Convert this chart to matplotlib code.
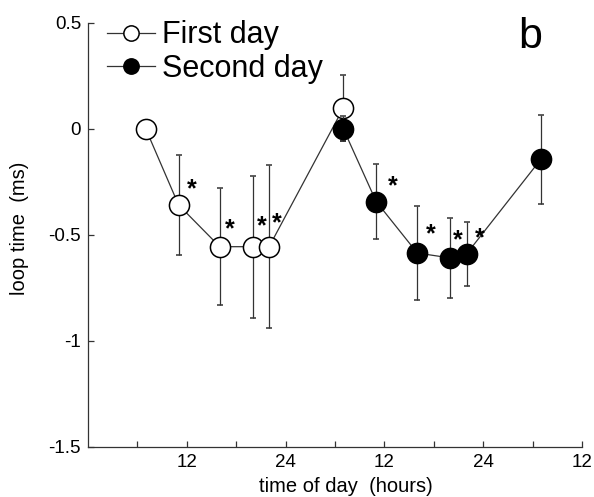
import numpy as np
import matplotlib
matplotlib.use("Agg")
import matplotlib.pyplot as plt
from matplotlib.lines import Line2D

plt.rcParams['font.family'] = ['Liberation Sans', 'DejaVu Sans']

# time of day in hours from start of recording, loop time change (ms), error
day1_t = [7, 11, 16, 20, 22, 31]
day1_v = [0.0, -0.36, -0.557, -0.557, -0.557, 0.096]
day1_err = [0.03, 0.235, 0.275, 0.335, 0.385, 0.157]

day2_t = [31, 35, 40, 44, 46, 55]
day2_v = [0.0, -0.344, -0.587, -0.61, -0.59, -0.145]
day2_err = [0.058, 0.175, 0.22, 0.19, 0.15, 0.21]

# which points carry a significance star
day1_sig = [1, 2, 3, 4]
day2_sig = [1, 2, 3, 4]

xticks = [6, 12, 18, 24, 30, 36, 42, 48, 54, 60]
xlabels = ['', '12', '', '24', '', '12', '', '24', '', '12']
yticks = [-1.5, -1, -0.5, 0, 0.5]
ylabels = ['-1.5', '-1', '-0.5', '0', '0.5']

# star offsets in pixels (dx, dy up)
star_off1 = [(13, 16), (10, 17), (9, 20), (8, 23)]
star_off2 = [(17, 15), (13, 19), (7, 18), (13, 15)]

fig = plt.figure(figsize=(5.94, 4.97), dpi=100)
ax = fig.add_axes([88/594, 1-446.7/497, (582-88)/594, (446.7-22.5)/497])

lc = '#333333'
ax.errorbar(day1_t, day1_v, yerr=day1_err, fmt='-o', color=lc, lw=0.9,
            ecolor=lc, elinewidth=0.9, capsize=2.5, capthick=0.9,
            mfc='white', mec='black', mew=1.1, ms=14.5, zorder=2)
ax.errorbar(day2_t, day2_v, yerr=day2_err, fmt='-o', color=lc, lw=0.9,
            ecolor=lc, elinewidth=0.9, capsize=2.5, capthick=0.9,
            mfc='black', mec='black', mew=1.1, ms=14.5, zorder=3)

for i, (dx, dy) in zip(day1_sig, star_off1):
    ax.annotate('*', (day1_t[i], day1_v[i]), xytext=(dx*0.72, dy*0.72),
                textcoords='offset points', ha='center', va='center',
                fontsize=18, fontweight='bold', zorder=5)
for i, (dx, dy) in zip(day2_sig, star_off2):
    ax.annotate('*', (day2_t[i], day2_v[i]), xytext=(dx*0.72, dy*0.72),
                textcoords='offset points', ha='center', va='center',
                fontsize=18, fontweight='bold', zorder=5)

ax.set_xlim(0, 60)
ax.set_ylim(-1.5, 0.5)
ax.set_xticks(xticks)
ax.set_xticklabels(xlabels)
ax.set_yticks(yticks)
ax.set_yticklabels(ylabels)
ax.tick_params(direction='in', length=4, width=0.9, colors=lc, labelcolor='black',
               labelsize=13.5, pad=5)
for s in ['top', 'right']:
    ax.spines[s].set_visible(False)
for s in ['left', 'bottom']:
    ax.spines[s].set_color(lc)
    ax.spines[s].set_linewidth(0.9)

fig.text(346/594, 5/497, 'time of day  (hours)', fontsize=14.5,
         ha='center', va='baseline')
ax.set_ylabel('loop time  (ms)', fontsize=14.5)
ax.yaxis.set_label_coords(-0.12, 0.515)

handles = [Line2D([], [], color=lc, lw=0.9, marker='o', ms=11, mfc='white',
                  mec='black', mew=1.1),
           Line2D([], [], color=lc, lw=0.9, marker='o', ms=11, mfc='black',
                  mec='black', mew=1.1)]
ax.legend(handles, ['First day', 'Second day'], loc='upper left',
          bbox_to_anchor=(0.038, 1.005), frameon=False, fontsize=22,
          handlelength=1.57, handletextpad=0.25, labelspacing=0.12,
          borderaxespad=0, borderpad=0)

ax.text(0.895, 0.965, 'b', transform=ax.transAxes, fontsize=31,
        ha='center', va='center')

fig.savefig('out.png', dpi=100)
